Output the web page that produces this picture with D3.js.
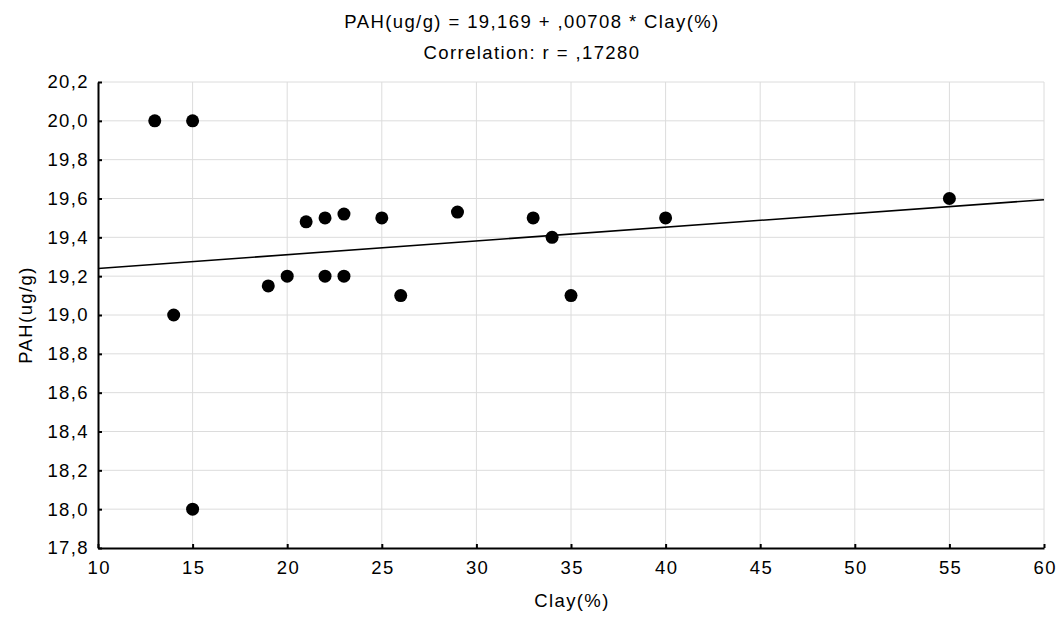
<!DOCTYPE html>
<html>
<head>
<meta charset="utf-8">
<script src="https://cdn.jsdelivr.net/npm/d3@7"></script>
<style>
  body { margin: 0; background: #fff; }
  svg { display: block; font-family: "Liberation Sans", Arial, sans-serif; }
</style>
</head>
<body>
<svg id="chart" width="1058" height="625"></svg>
<script>
// Data
const clay = [13, 15, 14, 15, 19, 20, 21, 22, 22, 23, 23, 25, 26, 29, 33, 34, 35, 40, 55];
const pah  = [20.0, 20.0, 19.0, 18.0, 19.15, 19.2, 19.48, 19.5, 19.2, 19.52, 19.2, 19.5, 19.1, 19.53, 19.5, 19.4, 19.1, 19.5, 19.6];
const xTicks = [10, 15, 20, 25, 30, 35, 40, 45, 50, 55, 60];
const yTicks = [17.8, 18.0, 18.2, 18.4, 18.6, 18.8, 19.0, 19.2, 19.4, 19.6, 19.8, 20.0, 20.2];
const fitIntercept = 19.169;
const fitSlope = 0.00708;
const titleLines = ["PAH(ug/g) = 19,169 + ,00708 * Clay(%)", "Correlation: r = ,17280"];

const svg = d3.select("#chart");
const plotLeft = 98, plotRight = 1044, plotTop = 82, plotBottom = 548;
const FONT = 18.5, SPACING = 1.4;

const x = d3.scaleLinear().domain([10, 60]).range([plotLeft, plotRight]);
const y = d3.scaleLinear().domain([17.8, 20.2]).range([plotBottom, plotTop]);

const comma = d => d3.format(".1f")(d).replace(".", ",");

// grid
svg.append("g").selectAll("line").data(xTicks.slice(1)).enter().append("line")
  .attr("x1", d => x(d)).attr("x2", d => x(d))
  .attr("y1", plotTop).attr("y2", plotBottom)
  .attr("stroke", "#dcdcdc").attr("stroke-width", 1);
svg.append("g").selectAll("line").data(yTicks.slice(1)).enter().append("line")
  .attr("x1", plotLeft).attr("x2", plotRight)
  .attr("y1", d => y(d)).attr("y2", d => y(d))
  .attr("stroke", "#dcdcdc").attr("stroke-width", 1);

// axes (ticks point inward)
const xAxis = svg.append("g").attr("transform", `translate(0,${plotBottom})`)
  .call(d3.axisBottom(x).tickValues(xTicks).tickSizeInner(-4).tickSizeOuter(0).tickPadding(10).tickFormat(d3.format("d")));
const yAxis = svg.append("g").attr("transform", `translate(${plotLeft},0)`)
  .call(d3.axisLeft(y).tickValues(yTicks).tickSizeInner(-4).tickSizeOuter(0).tickPadding(9).tickFormat(comma));

[xAxis, yAxis].forEach(a => {
  a.select(".domain").attr("stroke", "#000").attr("stroke-width", 2);
  a.selectAll(".tick line").attr("stroke", "#000").attr("stroke-width", 2);
  a.selectAll(".tick text").attr("fill", "#000").attr("font-size", FONT)
    .attr("letter-spacing", SPACING)
    .attr("font-family", "Liberation Sans, Arial, sans-serif");
});
xAxis.selectAll(".tick text").attr("dy", "0.85em").attr("dx", SPACING / 2);

// regression line
svg.append("line")
  .attr("x1", x(10)).attr("y1", y(fitIntercept + fitSlope * 10))
  .attr("x2", x(60)).attr("y2", y(fitIntercept + fitSlope * 60))
  .attr("stroke", "#000").attr("stroke-width", 1.6);

// points
svg.append("g").selectAll("circle").data(clay.map((c, i) => [c, pah[i]])).enter()
  .append("circle")
  .attr("cx", d => x(d[0])).attr("cy", d => y(d[1]))
  .attr("r", 6.5).attr("fill", "#000");

// titles
svg.selectAll(".title").data(titleLines).enter().append("text")
  .attr("x", 532).attr("y", (d, i) => 28 + i * 31)
  .attr("text-anchor", "middle").attr("font-size", FONT).attr("letter-spacing", SPACING)
  .attr("fill", "#000")
  .text(d => d);

svg.append("text")
  .attr("x", (plotLeft + plotRight) / 2 + 1).attr("y", 607)
  .attr("text-anchor", "middle").attr("font-size", FONT).attr("letter-spacing", SPACING)
  .text("Clay(%)");

svg.append("text")
  .attr("transform", `translate(32,${(plotTop + plotBottom) / 2}) rotate(-90)`)
  .attr("text-anchor", "middle").attr("font-size", FONT).attr("letter-spacing", SPACING)
  .text("PAH(ug/g)");
</script>
</body>
</html>
